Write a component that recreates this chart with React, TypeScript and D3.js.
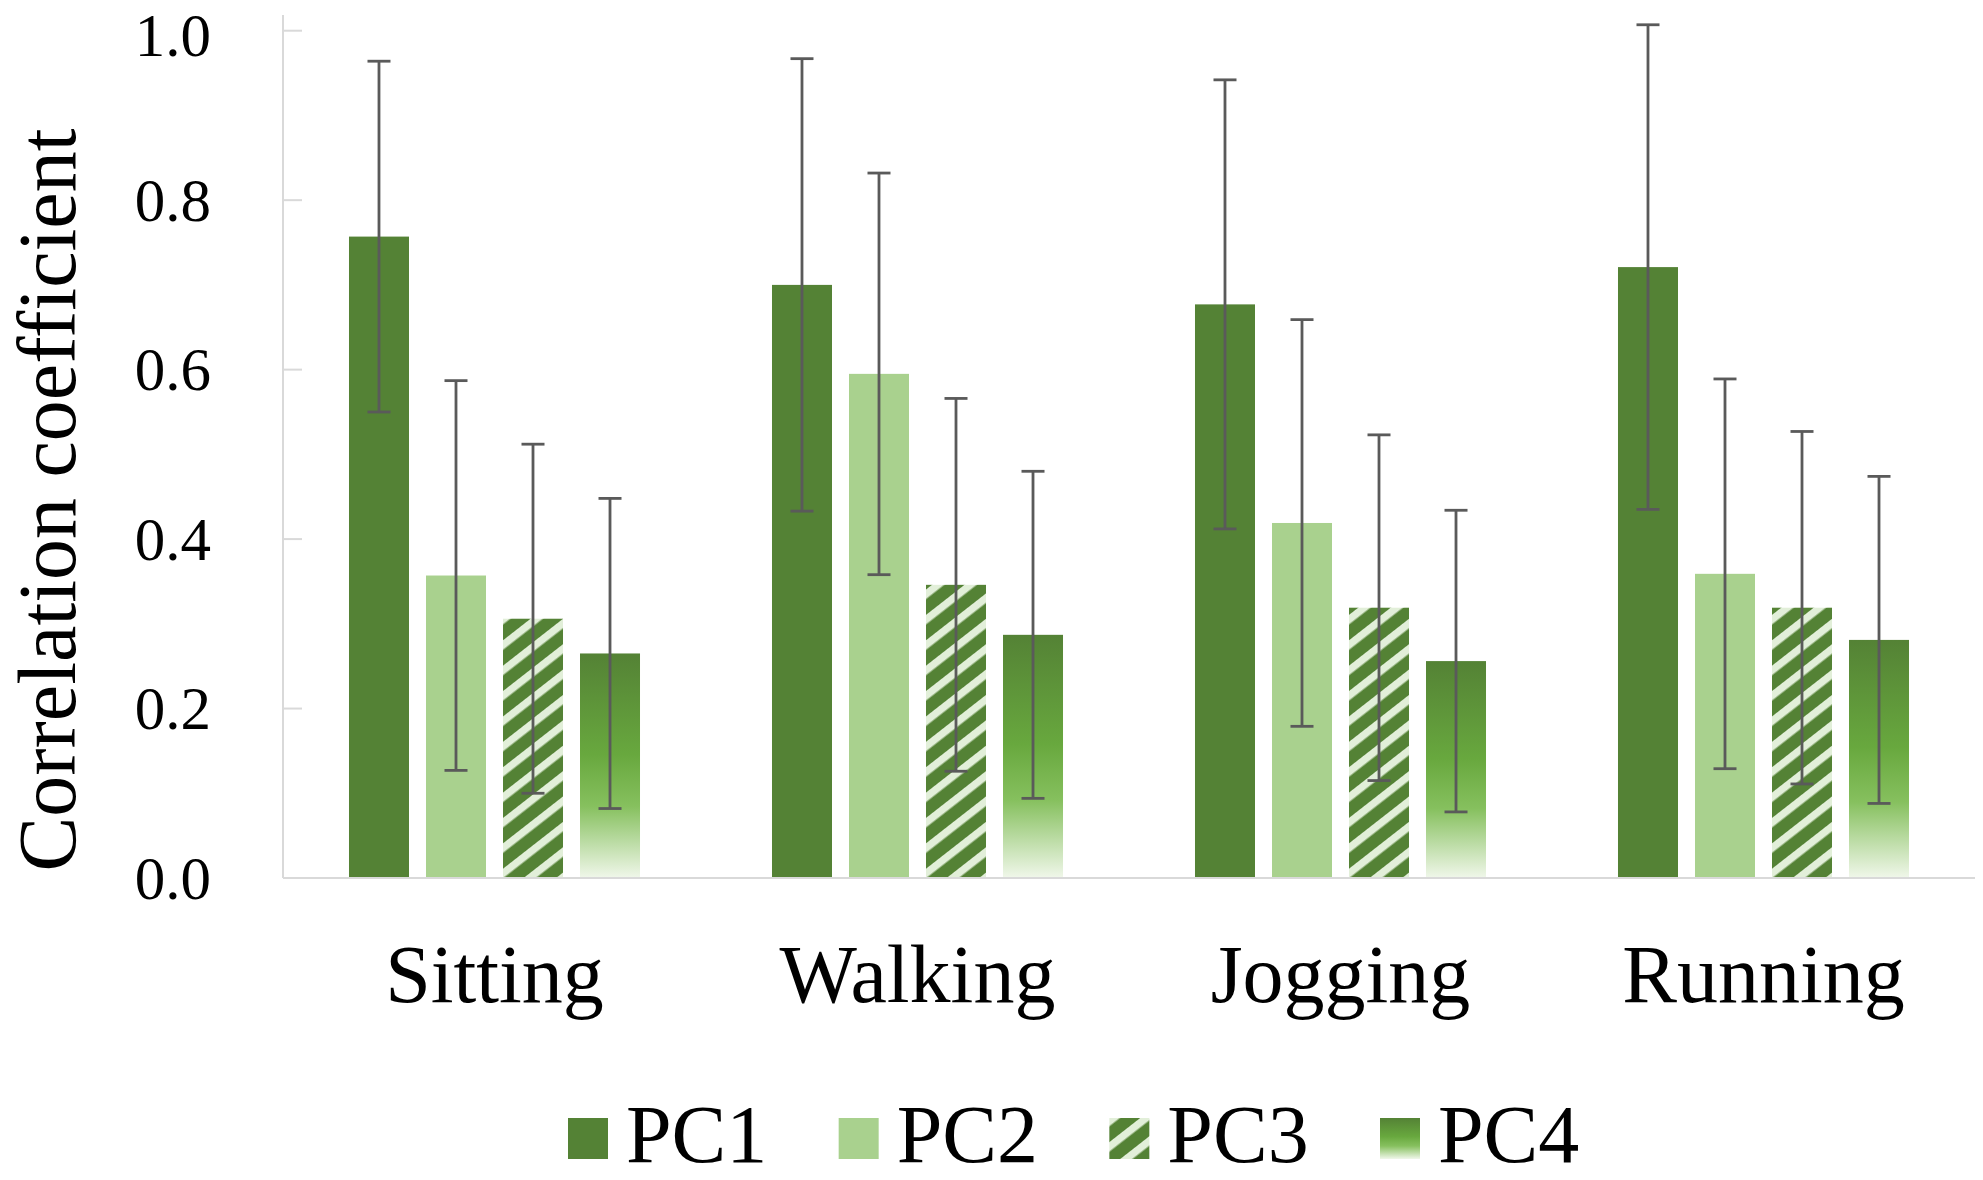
import * as d3 from 'd3';
import React, { useEffect } from 'react';

// chart data
const activities = ['Sitting', 'Walking', 'Jogging', 'Running'];
const components = ['PC1', 'PC2', 'PC3', 'PC4'];

// mean correlation coefficient per activity, one array per component
const pc1Mean = [0.757, 0.7, 0.677, 0.721];
const pc2Mean = [0.357, 0.595, 0.419, 0.359];
const pc3Mean = [0.306, 0.346, 0.319, 0.319];
const pc4Mean = [0.265, 0.287, 0.256, 0.281];

// standard deviation (error bars)
const pc1Sd = [0.207, 0.267, 0.265, 0.286];
const pc2Sd = [0.23, 0.237, 0.24, 0.23];
const pc3Sd = [0.206, 0.22, 0.204, 0.208];
const pc4Sd = [0.183, 0.193, 0.178, 0.193];

const yTicks = [0, 0.2, 0.4, 0.6, 0.8, 1.0];

const means = [pc1Mean, pc2Mean, pc3Mean, pc4Mean];
const sds = [pc1Sd, pc2Sd, pc3Sd, pc4Sd];

const width = 1983;
const height = 1180;
const font = '"Liberation Serif", "Times New Roman", serif';
const axisColor = '#d9d9d9';
const errColor = '#5a5a5a';

const fills = ['#548235', '#a9d18e', 'url(#pc3Stripes)', 'url(#pc4Grad)'];

export default function App() {
  useEffect(() => {
    document.body.style.margin = '0';
    document.body.style.overflow = 'hidden';
  }, []);

  const left = 283;
  const right = 1975;
  const yScale = d3.scaleLinear().domain([0, 1]).range([878, 30.7]);

  const x0 = d3.scaleBand().domain(activities).range([left, right]);
  const x1 = d3
    .scaleBand()
    .domain(components)
    .range([0, x0.bandwidth()])
    .paddingInner(0.2208)
    .paddingOuter(0.857);

  const capHalf = 11.5;

  // legend placement
  const legendX = d3
    .scalePoint()
    .domain(components)
    .range([568, 1380]);
  const legendBase = 1162;

  return (
    <svg
      width={width}
      height={height}
      style={{ position: 'absolute', left: 0, top: 0, background: '#fff' }}
      fontFamily={font}
    >
      <defs>
        <pattern
          id="pc3Stripes"
          patternUnits="userSpaceOnUse"
          width={20}
          height={20}
          patternTransform="rotate(52)"
        >
          <rect width={20} height={20} fill="#548235" />
          <rect width={7.5} height={20} fill="#e2efd9" />
        </pattern>
        <linearGradient id="pc4Grad" x1="0" y1="0" x2="0" y2="1">
          <stop offset="0%" stopColor="#548235" />
          <stop offset="45%" stopColor="#68a83e" />
          <stop offset="68%" stopColor="#86c05e" />
          <stop offset="100%" stopColor="#f0f7ea" />
        </linearGradient>
      </defs>

      {/* y axis */}
      <line x1={left} x2={left} y1={15} y2={yScale(0)} stroke={axisColor} strokeWidth={2} />
      {yTicks.map(t => (
        <g key={t}>
          <line
            x1={left}
            x2={left + 19}
            y1={yScale(t)}
            y2={yScale(t)}
            stroke={axisColor}
            strokeWidth={2}
          />
          <text
            x={211}
            y={Math.max(yScale(t), 35)}
            dy="0.34em"
            textAnchor="end"
            fontSize={61}
            fill="#000"
          >
            {d3.format('.1f')(t)}
          </text>
        </g>
      ))}

      {/* bars */}
      {activities.map((act, i) => (
        <g key={act} transform={`translate(${x0(act)},0)`}>
          {components.map((pc, j) => {
            const v = means[j][i];
            const sd = sds[j][i];
            const bx = x1(pc) as number;
            const cx = bx + x1.bandwidth() / 2;
            return (
              <g key={pc}>
                <rect
                  x={bx}
                  y={yScale(v)}
                  width={x1.bandwidth()}
                  height={yScale(0) - yScale(v)}
                  fill={fills[j]}
                />
                <line x1={cx} x2={cx} y1={yScale(v + sd)} y2={yScale(v - sd)} stroke={errColor} strokeWidth={2.8} />
                <line x1={cx - capHalf} x2={cx + capHalf} y1={yScale(v + sd)} y2={yScale(v + sd)} stroke={errColor} strokeWidth={2.8} />
                <line x1={cx - capHalf} x2={cx + capHalf} y1={yScale(v - sd)} y2={yScale(v - sd)} stroke={errColor} strokeWidth={2.8} />
              </g>
            );
          })}
          <text
            x={x0.bandwidth() / 2}
            y={1002}
            textAnchor="middle"
            fontSize={82}
            fill="#000"
          >
            {act}
          </text>
        </g>
      ))}

      {/* x axis */}
      <line x1={left} x2={right} y1={yScale(0)} y2={yScale(0)} stroke={axisColor} strokeWidth={2} />

      {/* y title */}
      <text
        transform={`translate(75,${500}) rotate(-90)`}
        textAnchor="middle"
        fontSize={82}
        fill="#000"
      >
        Correlation coefficient
      </text>

      {/* legend */}
      {components.map((pc, j) => (
        <g key={pc} transform={`translate(${legendX(pc)},0)`}>
          <rect x={0} y={legendBase - 44} width={40} height={41} fill={fills[j]} />
          <text x={58} y={legendBase} fontSize={82} fill="#000">
            {pc}
          </text>
        </g>
      ))}
    </svg>
  );
}
